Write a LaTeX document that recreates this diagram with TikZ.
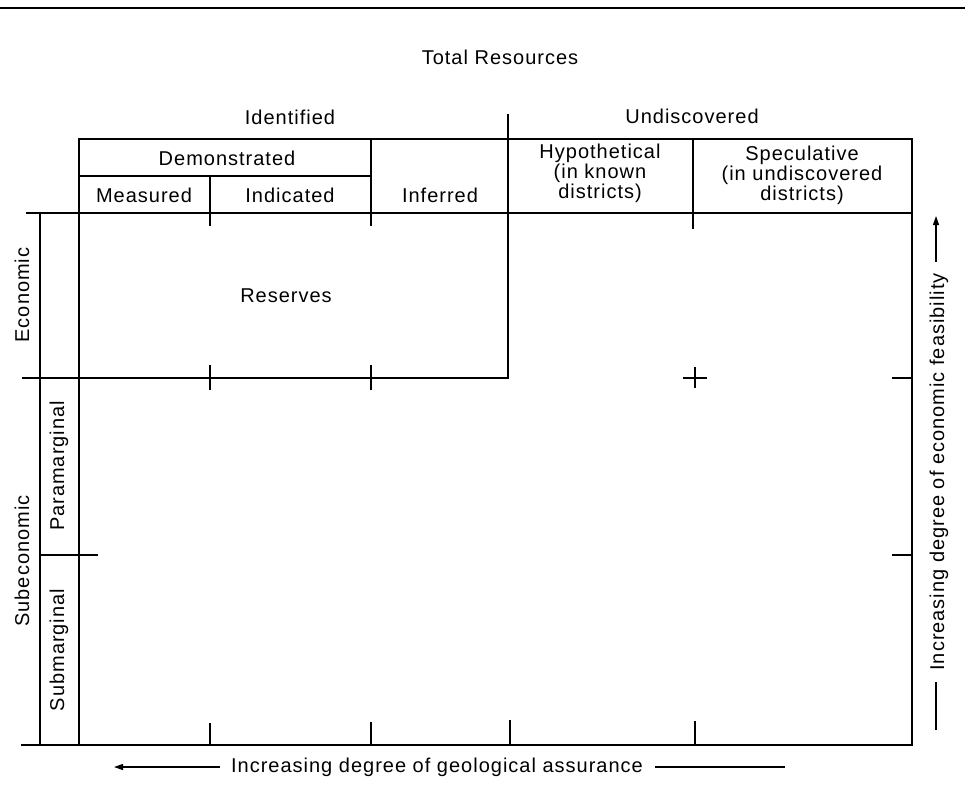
\documentclass[tikz,border=0pt]{standalone}
\usepackage{fontspec}
\setmainfont{Liberation Sans}[LetterSpace=5]
\usetikzlibrary{arrows.meta}
\begin{document}
\begin{tikzpicture}[x=1pt,y=-1pt,
  frame/.style={line width=2pt,line cap=rect},
  thin/.style={line width=1.5pt},
  lbl/.style={inner sep=0pt,font=\fontsize{20}{20}\selectfont},
  ml/.style={lbl,align=center},
  arr/.style={line width=1.3pt,-{Triangle[length=9pt,width=6pt]}}]
\useasboundingbox (0,0) rectangle (965,809);
% top rule
\coordinate (r1) at (0,8); \coordinate (r2) at (965,8);
\draw[thin] (r1) -- (r2);
% titles
\node[lbl] (total) at (500,57) {Total Resources};
\node[lbl] (ident) at (290,117) {Identified};
\node[lbl] (undisc) at (692,116) {Undiscovered};
% key coordinates
\coordinate (htl) at (79,139);  \coordinate (htr) at (912,139);
\coordinate (dbl) at (79,176);  \coordinate (dbr) at (371,176);
\coordinate (h1l) at (27,213);  \coordinate (h1r) at (912,213);
\coordinate (ebl) at (23,378);  \coordinate (ebr) at (508,378);
\coordinate (pbl) at (40,555);  \coordinate (pbr) at (97,555);
\coordinate (bl) at (22,745);   \coordinate (br) at (912,745);
\coordinate (div1) at (508,115);
% frame lines
\draw[frame] (htl) -- (htr) -- (br);
\draw[frame] (dbl) -- (dbr);
\draw[frame] (h1l) -- (h1r);
\draw[frame] (ebl) -- (ebr);
\draw[frame] (pbl) -- (pbr);
\draw[frame] (bl) -- (br);
\draw[frame] (htl) -- (79,745);
\draw[frame] (40,213) -- (40,745);
\draw[frame] (div1) -- (ebr);
\draw[frame] (210,176) -- (210,225);
\draw[frame] (371,139) -- (371,225);
\draw[frame] (693,139) -- (693,228);
% ticks at economic boundary
\draw[frame] (210,366) -- (210,389);
\draw[frame] (371,366) -- (371,389);
\draw[thin] (683,378) -- (707,378);
\draw[thin] (695,367) -- (695,388);
% right ticks
\draw[frame] (893,378) -- (912,378);
\draw[frame] (893,555) -- (912,555);
% bottom ticks
\draw[frame] (210,724) -- (210,745);
\draw[frame] (371,723) -- (371,745);
\draw[frame] (510,721) -- (510,745);
\draw[frame] (695,722) -- (695,745);
% header labels
\node[lbl] (demo) at (227,158) {Demonstrated};
\node[lbl] (meas) at (144,195) {Measured};
\node[lbl] (indic) at (290,195) {Indicated};
\node[lbl] (infer) at (440,195) {Inferred};
\node[ml] (hypo) at (600,173) {Hypothetical\\(in known\\districts)};
\node[ml] (spec) at (802,175) {Speculative\\(in undiscovered\\districts)};
\node[lbl] (res) at (286,296) {Reserves};
% left labels
\node[lbl,rotate=90] (econ) at (22,295) {Economic};
\node[lbl,rotate=90] (subecon) at (22,561) {Subeconomic};
\node[lbl,rotate=90] (para) at (59,466) {Paramarginal};
\node[lbl,rotate=90] (subm) at (59,650) {Submarginal};
% bottom axis label
\node[lbl] (geo) at (437,767) {Increasing degree of geological assurance};
\coordinate (ga1) at (220,767); \coordinate (ga2) at (114,767);
\coordinate (gb1) at (655,767); \coordinate (gb2) at (785,767);
\draw[arr] (ga1) -- (ga2);
\draw[line width=1.3pt] (gb1) -- (gb2);
% right axis label
\node[lbl,rotate=90] (feas) at (939,472) {Increasing degree of economic feasibility};
\coordinate (fa1) at (936,262); \coordinate (fa2) at (936,216);
\coordinate (fb1) at (936,730); \coordinate (fb2) at (936,682);
\draw[arr] (fa1) -- (fa2);
\draw[line width=1.3pt] (fb1) -- (fb2);
\end{tikzpicture}
\end{document}
